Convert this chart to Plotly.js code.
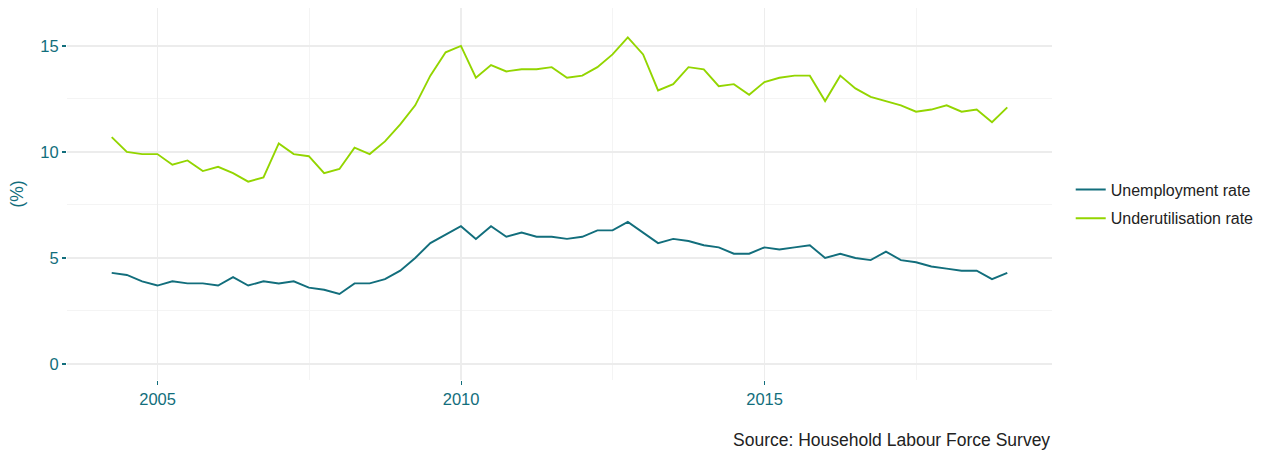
<!DOCTYPE html>
<html>
<head>
<meta charset="utf-8">
<script src="https://cdn.plot.ly/plotly-3.0.1.min.js"></script>
<style>html,body{margin:0;padding:0;background:#fff;}#chart{width:1269px;height:455px;}</style>
</head>
<body>
<div id="chart"></div>
<script>
const quarters = [
 '2004-03-31','2004-06-30','2004-09-30','2004-12-31',
 '2005-03-31','2005-06-30','2005-09-30','2005-12-31',
 '2006-03-31','2006-06-30','2006-09-30','2006-12-31',
 '2007-03-31','2007-06-30','2007-09-30','2007-12-31',
 '2008-03-31','2008-06-30','2008-09-30','2008-12-31',
 '2009-03-31','2009-06-30','2009-09-30','2009-12-31',
 '2010-03-31','2010-06-30','2010-09-30','2010-12-31',
 '2011-03-31','2011-06-30','2011-09-30','2011-12-31',
 '2012-03-31','2012-06-30','2012-09-30','2012-12-31',
 '2013-03-31','2013-06-30','2013-09-30','2013-12-31',
 '2014-03-31','2014-06-30','2014-09-30','2014-12-31',
 '2015-03-31','2015-06-30','2015-09-30','2015-12-31',
 '2016-03-31','2016-06-30','2016-09-30','2016-12-31',
 '2017-03-31','2017-06-30','2017-09-30','2017-12-31',
 '2018-03-31','2018-06-30','2018-09-30','2018-12-31'
];
const unemploymentRate = [
 4.3,4.2,3.9,3.7, 3.9,3.8,3.8,3.7, 4.1,3.7,3.9,3.8, 3.9,3.6,3.5,3.3,
 3.8,3.8,4.0,4.4, 5.0,5.7,6.1,6.5, 5.9,6.5,6.0,6.2, 6.0,6.0,5.9,6.0,
 6.3,6.3,6.7,6.2, 5.7,5.9,5.8,5.6, 5.5,5.2,5.2,5.5, 5.4,5.5,5.6,5.0,
 5.2,5.0,4.9,5.3, 4.9,4.8,4.6,4.5, 4.4,4.4,4.0,4.3
];
const underutilisationRate = [
 10.7,10.0,9.9,9.9, 9.4,9.6,9.1,9.3, 9.0,8.6,8.8,10.4, 9.9,9.8,9.0,9.2,
 10.2,9.9,10.5,11.3, 12.2,13.6,14.7,15.0, 13.5,14.1,13.8,13.9, 13.9,14.0,13.5,13.6,
 14.0,14.6,15.4,14.6, 12.9,13.2,14.0,13.9, 13.1,13.2,12.7,13.3, 13.5,13.6,13.6,12.4,
 13.6,13.0,12.6,12.4, 12.2,11.9,12.0,12.2, 11.9,12.0,11.4,12.1
];
const seriesNames = ['Unemployment rate','Underutilisation rate'];
const yTickVals = [0,5,10,15];
const sourceText = 'Source: Household Labour Force Survey';

const teal = '#126e7c';
const green = '#93d500';
const font = 'Liberation Sans, Arial, Helvetica, sans-serif';

const traces = [
 {x: quarters, y: unemploymentRate, name: seriesNames[0], legendgroup: 'a', type: 'scatter', mode: 'lines',
  line: {color: teal, width: 1.9}},
 {x: quarters, y: underutilisationRate, name: seriesNames[1], legendgroup: 'b', type: 'scatter', mode: 'lines',
  line: {color: green, width: 1.9}}
];

const layout = {
 width: 1269, height: 455,
 margin: {l: 67, r: 217, t: 8, b: 75, autoexpand: false},
 paper_bgcolor: '#ffffff', plot_bgcolor: '#ffffff',
 font: {family: font, size: 16, color: teal},
 showlegend: true,
 legend: {x: 1.019, xanchor: 'left', y: 0.473, yanchor: 'middle',
   font: {family: font, size: 16, color: '#222'}, bgcolor: 'rgba(0,0,0,0)',
   tracegroupgap: 5, itemwidth: 30},
 xaxis: {
  type: 'date', range: ['2003-07-06','2019-09-26'],
  tick0: '2005-01-01', dtick: 'M60', tickformat: '%Y',
  ticks: 'outside', ticklen: 4, tickwidth: 1.2, tickcolor: teal,
  tickfont: {family: font, size: 16.5, color: teal},
  showgrid: true, gridcolor: '#ededed', gridwidth: 1.5,
  minor: {dtick: 'M30', tick0: '2005-01-01', showgrid: true, gridcolor: '#f4f4f4', gridwidth: 1},
  zeroline: false, showline: false, fixedrange: true
 },
 yaxis: {
  range: [-0.755, 16.79], tickvals: yTickVals, ticktext: yTickVals.map(String),
  ticks: 'outside', ticklen: 4, tickwidth: 1.2, tickcolor: teal,
  tickfont: {family: font, size: 16.5, color: teal},
  showgrid: true, gridcolor: '#ececec', gridwidth: 1.5,
  minor: {tickvals: [2.5,7.5,12.5], showgrid: true, gridcolor: '#f4f4f4', gridwidth: 1},
  zeroline: false, showline: false,
  title: {text: '(%)', font: {family: font, size: 17.5, color: teal}, standoff: 12},
  fixedrange: true
 },
 annotations: [{
  text: sourceText, xref: 'paper', yref: 'paper', x: 1, y: -0.13,
  xanchor: 'right', yanchor: 'top', showarrow: false,
  font: {family: font, size: 17.5, color: '#222'}
 }]
};

Plotly.newPlot('chart', traces, layout, {displayModeBar: false, staticPlot: true});
</script>
</body>
</html>
